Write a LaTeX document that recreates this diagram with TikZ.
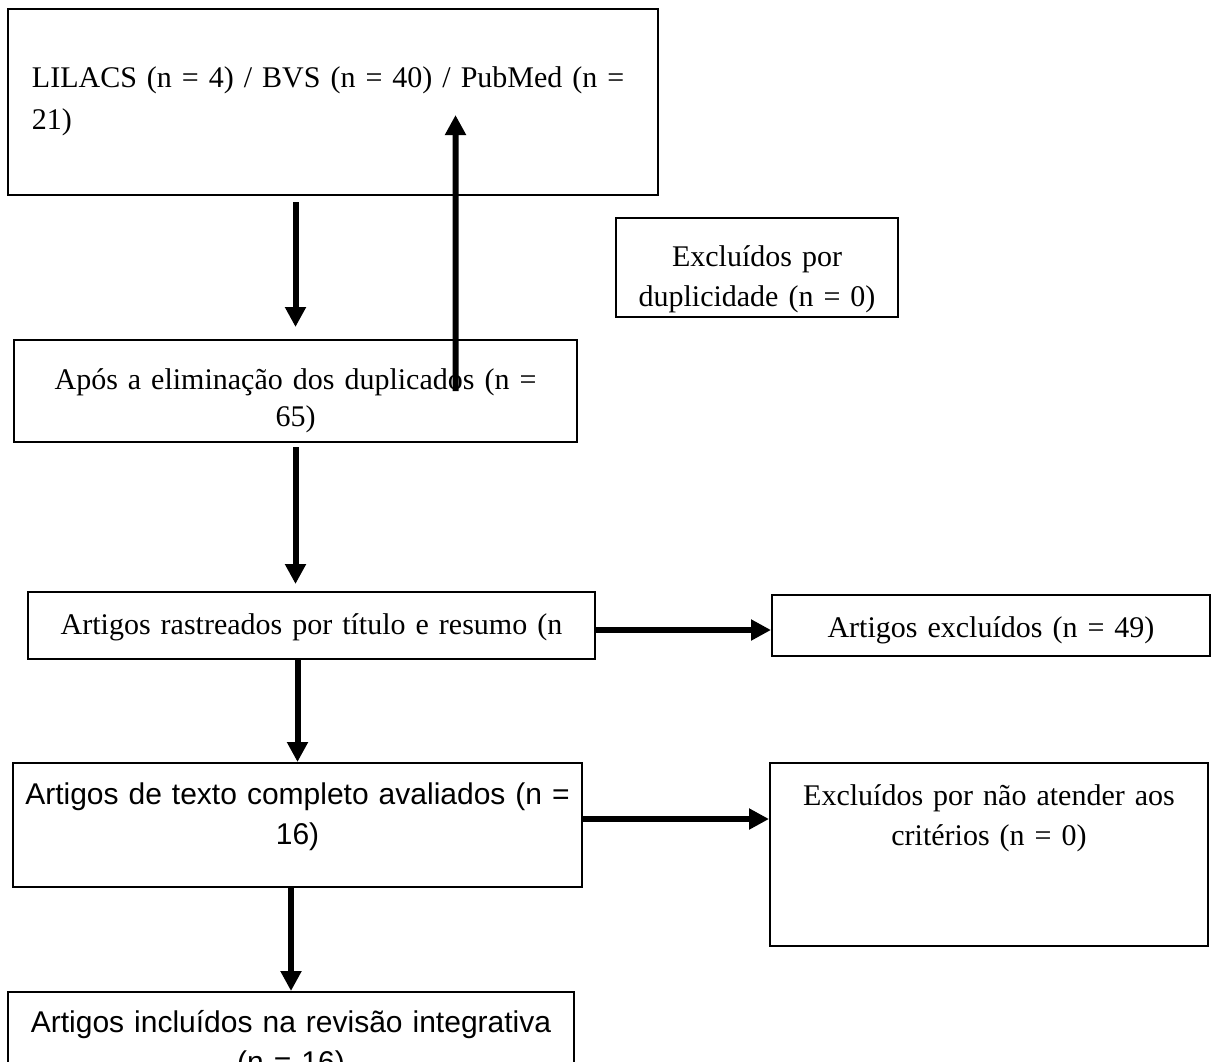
\documentclass[tikz,border=0pt]{standalone}
\usepackage{fontspec}
\setmainfont{Liberation Serif}
\setsansfont{Liberation Sans}
\usetikzlibrary{shapes, arrows.meta, positioning}
\usepackage{xcolor}

\tikzset{
  box/.style={draw, line width=0.8pt, inner sep=0pt, align=center, anchor=base, font=\fontsize{12}{16.2}\selectfont},
  sansbox/.style={box, font=\sffamily\fontsize{12}{16}\selectfont},
  arr/.style={line width=2.4pt, -{Triangle[length=8pt,width=8pt]}}
}

\begin{document}
\begin{tikzpicture}[x=0.4pt, y=-0.4pt]
        \useasboundingbox (0,0) rectangle (1211,1061);
        \node[box, align=left, inner xsep=9.6pt, text width=240.8pt, text height=31.2pt, text depth=43.2pt, font=\fontsize{12}{17}\selectfont] (lit) at (333,87) {LILACS (n = 4) / BVS (n = 40) / PubMed (n =\\21)};
        \node[box, text width=112.8pt, text height=19.2pt, text depth=20.4pt] (dup) at (757,266) {Excluídos por\\duplicidade (n = 0)};
        \node[box, text width=225.2pt, text height=19.6pt, text depth=21.2pt, font=\fontsize{12}{14.8}\selectfont] (apos) at (295.5,389) {Após a eliminação dos duplicados (n =\\65)};
        \node[box, text width=226.8pt, text height=16.8pt, text depth=10pt] (rast) at (311.5,634) {Artigos rastreados por título e resumo (n};
        \node[box, text width=175.2pt, text height=16.8pt, text depth=7.6pt, right=70pt of rast.east] (excl) {Artigos excluídos (n = 49)};
        \node[sansbox, text width=227.6pt, text height=16.4pt, text depth=33.2pt] (comp) at (297.5,804) {Artigos de texto completo avaliados (n =\\16)};
        \node[box, text width=175.2pt, text height=16.8pt, text depth=56.4pt, right=74.4pt of comp.east, yshift=-11.8pt] (crit) {Excluídos por não atender aos\\critérios (n = 0)};
        \node[sansbox, text width=226.4pt, text height=16pt, text depth=35.2pt] (incl) at (291,1032) {Artigos incluídos na revisão integrativa\\(n = 16)};
        \draw[arr, shorten <=2.4pt, shorten >=4.8pt] (apos.north |- lit.south) -- (apos.north);
        \draw[arr] ([xshift=64pt]apos.center) -- ([xshift=49pt,yshift=-5.2pt]lit.center);
        \draw[arr, shorten <=1.6pt, shorten >=2.8pt] (apos.south) -- (apos.south |- rast.north);
        \draw[arr] ([yshift=-1.8pt]rast.east) -- ([yshift=-1.8pt]rast.east -| excl.west);
        \draw[arr] (comp.north |- rast.south) -- (comp.north);
        \draw[arr] ([yshift=2.4pt]comp.east) -- ([yshift=2.4pt]comp.east -| crit.west);
        \draw[arr] (incl.north |- comp.south) -- (incl.north);
    \end{tikzpicture}
\end{document}
